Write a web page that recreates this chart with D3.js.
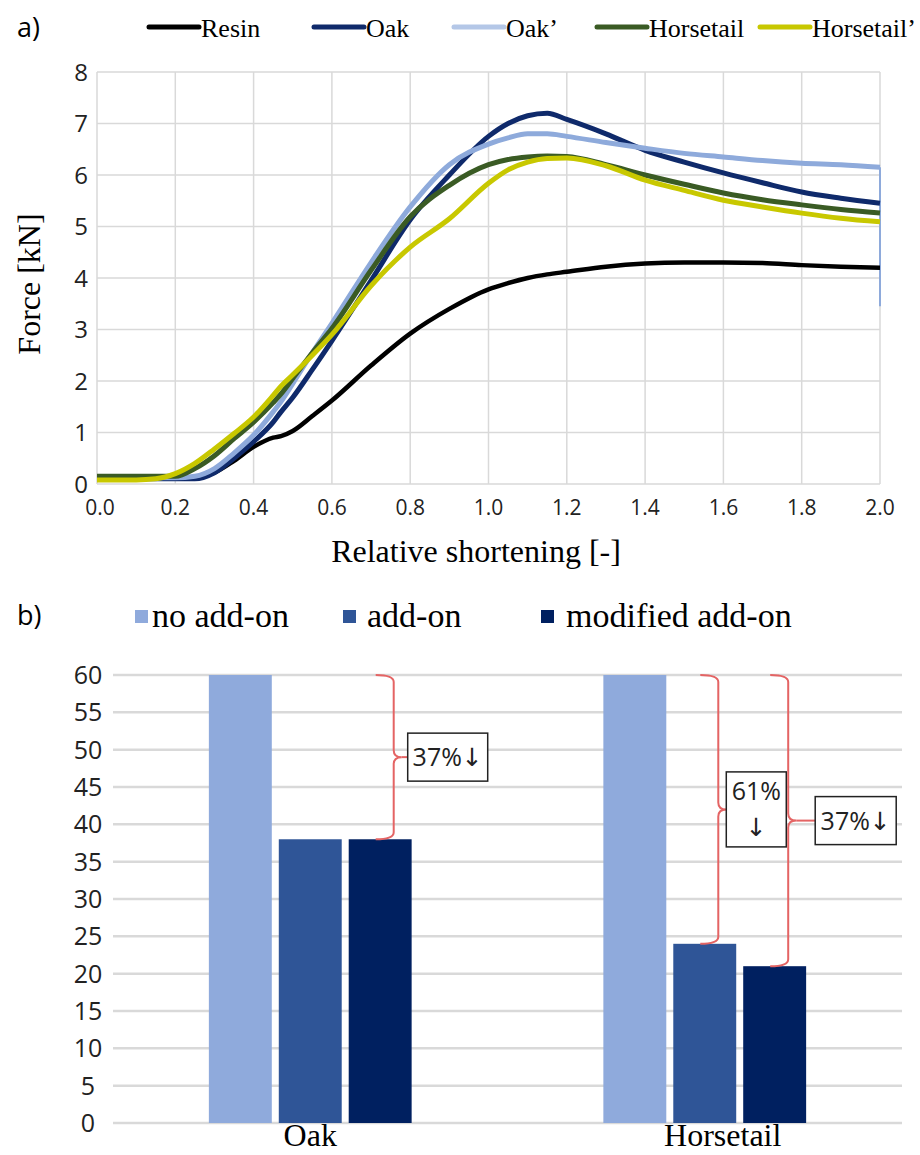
<!DOCTYPE html>
<html>
<head>
<meta charset="utf-8">
<script src="https://cdn.jsdelivr.net/npm/d3@7"></script>
<style>
  body { margin: 0; background: #fff; }
  svg { display: block; }
</style>
</head>
<body>
<script>
// ---- chart a) data: force vs relative shortening ----
const shortening = [0, 0.1, 0.15, 0.2, 0.25, 0.3, 0.35, 0.4, 0.45, 0.47, 0.5, 0.55, 0.6, 0.7, 0.8, 0.9,
                    1.0, 1.05, 1.1, 1.15, 1.2, 1.3, 1.4, 1.5, 1.6, 1.7, 1.8, 1.9, 2.0];
const resin      = [0.1, 0.1, 0.1, 0.1, 0.12, 0.22, 0.45, 0.72, 0.9, 0.93, 1.03, 1.32, 1.62, 2.3, 2.92, 3.4,
                    3.78, 3.9, 4.0, 4.07, 4.12, 4.22, 4.28, 4.3, 4.3, 4.29, 4.25, 4.22, 4.2];
const oak        = [0.1, 0.1, 0.1, 0.1, 0.1, 0.22, 0.5, 0.82, 1.2, 1.4, 1.68, 2.22, 2.78, 3.95, 5.13, 6.0,
                    6.75, 7.0, 7.15, 7.2, 7.08, 6.8, 6.48, 6.25, 6.04, 5.85, 5.67, 5.55, 5.45];
const oakPrime   = [0.12, 0.12, 0.12, 0.12, 0.15, 0.3, 0.6, 0.95, 1.4, 1.6, 1.95, 2.55, 3.12, 4.3, 5.38, 6.2,
                    6.6, 6.72, 6.8, 6.8, 6.75, 6.63, 6.52, 6.42, 6.35, 6.28, 6.23, 6.2, 6.15];
const oakPrimeEnd = 3.45;
const horsetail  = [0.15, 0.15, 0.15, 0.15, 0.3, 0.55, 0.88, 1.2, 1.58, 1.75, 2.05, 2.55, 3.02, 4.15, 5.19, 5.8,
                    6.2, 6.3, 6.35, 6.37, 6.36, 6.2, 6.0, 5.82, 5.65, 5.52, 5.42, 5.33, 5.26];
const horsetailPrime = [0.08, 0.08, 0.1, 0.2, 0.4, 0.68, 0.98, 1.3, 1.72, 1.9, 2.12, 2.5, 2.9, 3.85, 4.6, 5.15,
                    5.84, 6.1, 6.25, 6.32, 6.33, 6.18, 5.9, 5.7, 5.51, 5.38, 5.26, 5.16, 5.09];
const lineNames = ["Resin", "Oak", "Oak\u2019", "Horsetail", "Horsetail\u2019"];
const xTicksA = d3.range(0, 2.01, 0.2);
const yTicksA = d3.range(0, 9, 1);

// ---- chart b) data ----
const woods = ["Oak", "Horsetail"];
const variants = ["no add-on", "add-on", "modified add-on"];
const noAddOn = [60, 60];
const addOn = [38, 24];
const modifiedAddOn = [38, 21];
const yTicksB = d3.range(0, 61, 5);
const reductions = [
  { wood: "Oak", variant: 2, label: ["37%\u2193"] },
  { wood: "Horsetail", variant: 1, label: ["61%", "\u2193"] },
  { wood: "Horsetail", variant: 2, label: ["37%\u2193"] }
];

const lineColors = ["#000000", "#0f2a6b", "#8eaadb", "#3a5b24", "#c8c800"];
const barColors = ["#8faadc", "#2f5597", "#002060"];
const sans = "'Open Sans', 'DejaVu Sans', sans-serif";
const serif = "'Liberation Serif', 'DejaVu Serif', serif";
const gridColor = "#d9d9d9";

const width = 920, height = 1155;
const svg = d3.select("body").append("svg")
    .attr("width", width)
    .attr("height", height);

// ================= chart a =================
const ma = { left: 97, right: 880, top: 72, bottom: 484 };
const xA = d3.scaleLinear().domain([0, 2]).range([ma.left, ma.right]);
const yA = d3.scaleLinear().domain([0, 8]).range([ma.bottom, ma.top]);

const gA = svg.append("g");

// grid
gA.selectAll("line.vgrid").data(xTicksA).enter().append("line")
    .attr("x1", d => xA(d)).attr("x2", d => xA(d))
    .attr("y1", ma.top).attr("y2", ma.bottom)
    .attr("stroke", gridColor).attr("stroke-width", 1.5);
gA.selectAll("line.hgrid").data(yTicksA).enter().append("line")
    .attr("x1", ma.left).attr("x2", ma.right)
    .attr("y1", d => yA(d)).attr("y2", d => yA(d))
    .attr("stroke", gridColor).attr("stroke-width", 1.5);

// tick labels
gA.selectAll("text.ylab").data(yTicksA).enter().append("text")
    .attr("x", 88).attr("y", d => yA(d)).attr("dy", "0.36em")
    .attr("text-anchor", "end")
    .style("font-family", sans).style("font-size", "24px").attr("fill", "#222")
    .text(d => d);
gA.selectAll("text.xlab").data(xTicksA).enter().append("text")
    .attr("x", d => xA(d) + (d === 0 ? 3 : 0)).attr("y", 515)
    .attr("text-anchor", "middle")
    .style("font-family", sans).style("font-size", "21px").attr("fill", "#222")
    .text(d => d.toFixed(1));

// axis titles
gA.append("text")
    .attr("x", 476).attr("y", 562)
    .attr("text-anchor", "middle")
    .style("font-family", serif).style("font-size", "32px")
    .text("Relative shortening [-]");
gA.append("text")
    .attr("transform", `translate(40,${(ma.top + ma.bottom) / 2 + 6}) rotate(-90)`)
    .attr("text-anchor", "middle")
    .style("font-family", serif).style("font-size", "32px")
    .text("Force [kN]");

// curves
const curveData = [resin, oak, oakPrime, horsetail, horsetailPrime];
const line = d3.line()
    .x((d, i) => xA(shortening[i]))
    .y(d => yA(d))
    .curve(d3.curveMonotoneX);

gA.append("line")
    .attr("x1", xA(2)).attr("x2", xA(2))
    .attr("y1", yA(oakPrime[oakPrime.length - 1])).attr("y2", yA(oakPrimeEnd))
    .attr("stroke", lineColors[2]).attr("stroke-width", 2);

gA.selectAll("path.curve").data(curveData).enter().append("path")
    .attr("d", d => line(d))
    .attr("fill", "none")
    .attr("stroke", (d, i) => lineColors[i])
    .attr("stroke-width", (d, i) => i === 0 ? 4.5 : 5)
    .attr("stroke-linejoin", "round");

// label + legend
svg.append("text").attr("x", 17).attr("y", 37)
    .style("font-family", sans).style("font-size", "27px").text("a)");

const legendX = [147, 312, 452, 595, 758];
const legA = svg.selectAll("g.lega").data(lineNames).enter().append("g")
    .attr("transform", (d, i) => `translate(${legendX[i]},0)`);
legA.append("line")
    .attr("x1", 2).attr("x2", 52).attr("y1", 27).attr("y2", 27)
    .attr("stroke", (d, i) => i === 2 ? "#b4c7e7" : lineColors[i])
    .attr("stroke-width", 5).attr("stroke-linecap", "round");
legA.append("text")
    .attr("x", 54).attr("y", 37)
    .style("font-family", serif).style("font-size", "26px")
    .text(d => d);

// ================= chart b =================
const mb = { left: 113, right: 902, top: 675, bottom: 1123 };
const x0 = d3.scaleBand().domain(woods).range([mb.left, mb.right])
    .paddingInner(0.486).paddingOuter(0.243);
const x1 = d3.scaleBand().domain(d3.range(variants.length)).range([0, x0.bandwidth()])
    .paddingInner(0.1).paddingOuter(0);
const yB = d3.scaleLinear().domain([0, 60]).range([mb.bottom, mb.top]);

const gB = svg.append("g");

gB.selectAll("line.grid").data(yTicksB).enter().append("line")
    .attr("x1", mb.left).attr("x2", mb.right)
    .attr("y1", d => yB(d)).attr("y2", d => yB(d))
    .attr("stroke", gridColor).attr("stroke-width", 2.5);

gB.selectAll("text.ylab").data(yTicksB).enter().append("text")
    .attr("x", 88).attr("y", d => yB(d)).attr("dy", "0.36em")
    .attr("text-anchor", "middle")
    .style("font-family", sans).style("font-size", "25px").attr("fill", "#222")
    .text(d => d);

const barValues = [noAddOn, addOn, modifiedAddOn];
const barRows = [];
woods.forEach((w, wi) => {
  variants.forEach((v, vi) => {
    barRows.push({ wood: w, vi: vi, value: barValues[vi][wi] });
  });
});

gB.selectAll("rect.bar").data(barRows).enter().append("rect")
    .attr("x", d => x0(d.wood) + x1(d.vi))
    .attr("y", d => yB(d.value))
    .attr("width", x1.bandwidth())
    .attr("height", d => yB(0) - yB(d.value))
    .attr("fill", d => barColors[d.vi]);

gB.selectAll("text.cat").data(woods).enter().append("text")
    .attr("x", d => x0(d) + x0.bandwidth() / 2 + (d === "Horsetail" ? 18 : 0))
    .attr("y", 1146)
    .attr("text-anchor", "middle")
    .style("font-family", serif).style("font-size", "32px")
    .text(d => d);

// reduction braces
function bracePath(s, yTop, yBot) {
  const mid = (yTop + yBot) / 2, h = 18, t = 8, r = 7;
  return `M${s - h},${yTop} Q${s},${yTop} ${s},${yTop + r} L${s},${mid - r} ` +
         `Q${s},${mid} ${s + t},${mid} Q${s},${mid} ${s},${mid + r} ` +
         `L${s},${yBot - r} Q${s},${yBot} ${s - h},${yBot}`;
}
const boxLayout = [
  { lead: 6, w: 80, h: 48 },
  { lead: 0, w: 60, h: 75 },
  { lead: 19, w: 81, h: 48 }
];
reductions.forEach((r, k) => {
  const wi = woods.indexOf(r.wood);
  const top = yB(noAddOn[wi]);
  const bot = yB(barValues[r.variant][wi]);
  const spine = x0(r.wood) + x1(r.variant) + 45;
  const mid = (top + bot) / 2;
  const lay = boxLayout[k];
  const tip = spine + 8;
  gB.append("path").attr("d", bracePath(spine, top, bot))
      .attr("fill", "none").attr("stroke", "#e46464").attr("stroke-width", 2);
  if (lay.lead > 0) {
    gB.append("line").attr("x1", tip).attr("x2", tip + lay.lead)
        .attr("y1", mid).attr("y2", mid)
        .attr("stroke", "#e46464").attr("stroke-width", 2);
  }
  const bx = tip + lay.lead;
  gB.append("rect").attr("x", bx).attr("y", mid - lay.h / 2)
      .attr("width", lay.w).attr("height", lay.h)
      .attr("fill", "#fff").attr("stroke", "#222").attr("stroke-width", 1.5);
  const lh = 36;
  r.label.forEach((t, li) => {
    gB.append("text")
        .attr("x", bx + lay.w / 2)
        .attr("y", mid + (li - (r.label.length - 1) / 2) * lh)
        .attr("dy", "0.36em")
        .attr("text-anchor", "middle")
        .style("font-family", sans).style("font-size", "25px").attr("fill", "#222")
        .text(t);
  });
});

// label + legend
svg.append("text").attr("x", 17).attr("y", 625)
    .style("font-family", sans).style("font-size", "27px").text("b)");

const legBX = [135, 343, 541];
const legBText = [17, 24, 25];
const legB = svg.selectAll("g.legb").data(variants).enter().append("g")
    .attr("transform", (d, i) => `translate(${legBX[i]},0)`);
legB.append("rect")
    .attr("x", 0).attr("y", 610).attr("width", 13).attr("height", 13)
    .attr("fill", (d, i) => barColors[i]);
legB.append("text")
    .attr("x", (d, i) => legBText[i]).attr("y", 627)
    .style("font-family", serif).style("font-size", "34px")
    .text(d => d);
</script>
</body>
</html>
